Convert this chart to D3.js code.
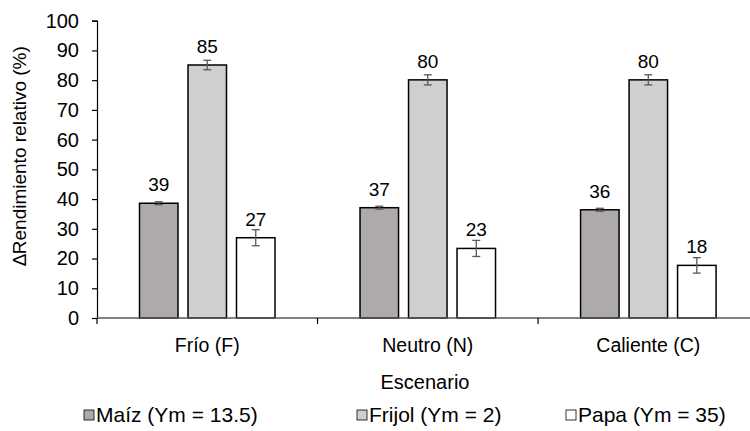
<!DOCTYPE html>
<html><head><meta charset="utf-8">
<script src="https://cdn.jsdelivr.net/npm/d3@7"></script>
<style>body{margin:0;background:#fff}svg{display:block}text{font-family:"Liberation Sans",Arial,sans-serif;fill:#000}</style>
</head><body><svg id="c" width="750" height="431"></svg>
<script>
const categories = ["Frío (F)", "Neutro (N)", "Caliente (C)"];
const seriesNames = ["Maíz (Ym = 13.5)", "Frijol (Ym = 2)", "Papa (Ym = 35)"];
const maiz = [38.6, 37.1, 36.4];
const frijol = [85.1, 80.1, 80.1];
const papa = [27.0, 23.4, 17.7];
const maizErr = [0.5, 0.5, 0.5];
const frijolErr = [1.6, 1.7, 1.7];
const papaErr = [2.7, 2.7, 2.6];
const yTicks = [0,10,20,30,40,50,60,70,80,90,100];
const colors = ["#AEAAAA", "#D0CECE", "#FFFFFF"];

const values = [maiz, frijol, papa];
const errs = [maizErr, frijolErr, papaErr];
const svg = d3.select("#c");
const pLeft = 97, pRight = 758.6, pTop = 20.7, pBottom = 318;

const x0 = d3.scaleBand().domain(categories).range([pLeft, pRight]).padding(0);
const x1 = d3.scaleBand().domain(seriesNames).range([42.5, 178]).paddingInner(0.206).paddingOuter(0);
const y = d3.scaleLinear().domain([0, 100]).range([pBottom, pTop]);

// y axis
const ya = svg.append("g").attr("transform", `translate(${pLeft},0)`)
  .call(d3.axisLeft(y).tickValues(yTicks).tickSize(5).tickPadding(13));
ya.select(".domain").attr("stroke", "#000").attr("stroke-width", 1.2);
ya.selectAll(".tick line").attr("stroke", "#000").attr("stroke-width", 1.2);
ya.selectAll(".tick text").attr("font-size", 20).attr("font-family", "Liberation Sans, Arial").attr("fill", "#000");

// bars
const data = [];
categories.forEach((c, i) => seriesNames.forEach((s, j) => data.push({c, s, j, v: values[j][i], e: errs[j][i]})));

const g = svg.append("g");
g.selectAll("rect.bar").data(data).enter().append("rect")
  .attr("x", d => x0(d.c) + x1(d.s))
  .attr("y", d => y(d.v))
  .attr("width", x1.bandwidth())
  .attr("height", d => y(0) - y(d.v))
  .attr("fill", d => colors[d.j])
  .attr("stroke", "#000").attr("stroke-width", 1.5);

// x axis
const xa = svg.append("g").attr("transform", `translate(0,${pBottom})`);
xa.append("line").attr("x1", pLeft).attr("x2", pRight).attr("stroke", "#595959").attr("stroke-width", 1.5);
[...categories.map(c => x0(c)), pRight].forEach(xv => {
  xa.append("line").attr("x1", xv).attr("x2", xv).attr("y1", 0).attr("y2", 6).attr("stroke", "#000").attr("stroke-width", 1.2);
});
categories.forEach(c => {
  svg.append("text").attr("x", x0(c) + x0.bandwidth()/2).attr("y", 352).attr("text-anchor", "middle")
    .attr("font-size", 19.5).text(c);
});

// error bars
const eb = svg.append("g").attr("stroke", "#595959").attr("stroke-width", 1.3);
data.forEach(d => {
  const cx = x0(d.c) + x1(d.s) + x1.bandwidth()/2;
  eb.append("line").attr("x1", cx).attr("x2", cx).attr("y1", y(d.v + d.e)).attr("y2", y(d.v - d.e));
  [d.v + d.e, d.v - d.e].forEach(v => eb.append("line").attr("x1", cx - 4).attr("x2", cx + 4).attr("y1", y(v)).attr("y2", y(v)));
});

// value labels
svg.selectAll("text.val").data(data).enter().append("text")
  .attr("x", d => x0(d.c) + x1(d.s) + x1.bandwidth()/2)
  .attr("y", d => y(d.v) - 12)
  .attr("text-anchor", "middle").attr("font-size", 19)
  .text(d => d3.format(".0f")(d.v));

// axis titles
svg.append("text").attr("x", 425).attr("y", 389).attr("text-anchor", "middle").attr("font-size", 20).text("Escenario");
svg.append("text").attr("transform", "translate(26,156) rotate(-90)").attr("text-anchor", "middle").attr("font-size", 19).text("∆Rendimiento relativo (%)");

// legend
const legX = [84, 357, 566];
seriesNames.forEach((s, j) => {
  svg.append("rect").attr("x", legX[j]).attr("y", 410).attr("width", 10).attr("height", 10)
    .attr("fill", colors[j]).attr("stroke", "#000").attr("stroke-width", 0.8);
  svg.append("text").attr("x", legX[j] + 12).attr("y", 422).attr("font-size", 21).text(s);
});
</script></body></html>
